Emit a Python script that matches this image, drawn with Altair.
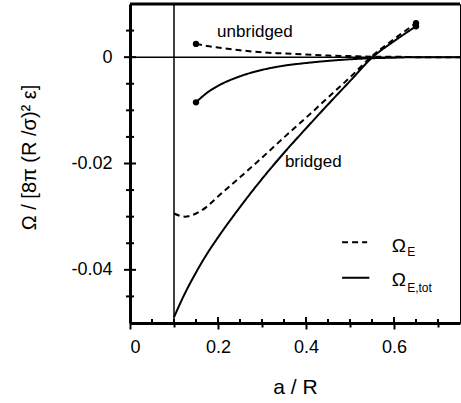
import altair as alt
import pandas as pd

# ---- data ----
a_bridged = [0.10, 0.125, 0.15, 0.175, 0.20, 0.25, 0.30, 0.35, 0.40, 0.45, 0.50, 0.55, 0.60, 0.65]
omegaE_bridged = [-0.0294, -0.0300, -0.0294, -0.0281, -0.0262, -0.0226, -0.0189, -0.0151,
                  -0.0114, -0.0076, -0.0038, 0.0002, 0.0034, 0.0064]
omegaEtot_bridged = [-0.0489, -0.0444, -0.0405, -0.0370, -0.0339, -0.0282, -0.0229, -0.0180,
                     -0.0134, -0.0089, -0.0045, -0.0001, 0.0030, 0.0058]

a_unbridged = [0.15, 0.175, 0.20, 0.25, 0.30, 0.35, 0.40, 0.45, 0.50, 0.55, 0.60, 0.65, 0.70, 0.75]
omegaE_unbridged = [0.0025, 0.0021, 0.0018, 0.0013, 0.0009, 0.0007, 0.0005, 0.0003,
                    0.0002, 0.0001, 0.0001, 0.0000, 0.0000, 0.0000]
omegaEtot_unbridged = [-0.0085, -0.0067, -0.0054, -0.0036, -0.0024, -0.0016, -0.0011, -0.0007,
                       -0.0004, -0.0002, -0.0001, 0.0000, 0.0000, 0.0000]

x_major = [0, 0.2, 0.4, 0.6]
x_minor = [0.05, 0.1, 0.15, 0.25, 0.3, 0.35, 0.45, 0.5, 0.55, 0.65, 0.7]
y_major = [-0.04, -0.02, 0.0]
y_minor = [-0.045, -0.035, -0.03, -0.025, -0.015, -0.01, -0.005, 0.005]

x_wall = [0.1]
y_zero = [0.0]

labels_text = ["unbridged", "bridged"]
labels_a = [0.198, 0.352]
labels_y = [0.0037, -0.0207]

legend_kind = ["E", "Etot"]
legend_y = [-0.0348, -0.0415]
legend_x1 = [0.482, 0.482]
legend_x2 = [0.539, 0.544]
legend_main = ["Ω", "Ω"]
legend_main_a = [0.595, 0.595]
legend_main_y = [-0.0366, -0.0430]
legend_sub = ["E", "E,tot"]
legend_sub_a = [0.630, 0.630]
legend_sub_y = [-0.0374, -0.0441]

W, H = 330, 319
FONT = "Liberation Sans"

# ---- build tables ----
rows = []
for a, v in zip(a_bridged, omegaE_bridged):
    rows.append({"a": a, "omega": v, "curve": "bridged_E", "kind": "E"})
for a, v in zip(a_bridged, omegaEtot_bridged):
    rows.append({"a": a, "omega": v, "curve": "bridged_Etot", "kind": "Etot"})
for a, v in zip(a_unbridged, omegaE_unbridged):
    rows.append({"a": a, "omega": v, "curve": "unbridged_E", "kind": "E"})
for a, v in zip(a_unbridged, omegaEtot_unbridged):
    rows.append({"a": a, "omega": v, "curve": "unbridged_Etot", "kind": "Etot"})
curves = pd.DataFrame(rows)

dots = pd.DataFrame({
    "a": [a_unbridged[0], a_unbridged[0], a_bridged[-1], a_bridged[-1]],
    "omega": [omegaE_unbridged[0], omegaEtot_unbridged[0], omegaE_bridged[-1], omegaEtot_bridged[-1]],
})

xs = alt.Scale(domain=[0, 0.75], nice=False, zero=False)
ys = alt.Scale(domain=[-0.05, 0.01], nice=False, zero=False)

major_list = "[" + ",".join(str(v) for v in x_major) + "]"
is_major = f"indexof({major_list}, datum.value) >= 0"

x_axis = alt.Axis(values=sorted(x_major + x_minor),
                  labelExpr=f"{is_major} ? format(datum.value, '.1~f') : ''",
                  ticks=True, tickColor="black", tickWidth=2,
                  tickSize={"condition": {"test": is_major, "value": 6}, "value": 4},
                  grid=False, domainWidth=3, domainColor="black",
                  labelFont=FONT, labelFontSize=18, labelColor="black", labelPadding=9,
                  title="a / R", titleFont=FONT, titleFontSize=21, titleFontWeight="normal",
                  titleColor="black", titleY=70, titleBaseline="alphabetic")
y_axis = alt.Axis(values=y_major,
                  labelExpr="datum.value == 0 ? '0' : replace(format(datum.value, '.2f'), '\u2212', '-')",
                  ticks=False, grid=False, domainWidth=3, domainColor="black",
                  labelFont=FONT, labelFontSize=18, labelColor="black", labelPadding=18,
                  title="Ω / [8π (R /σ)² ε]", titleFont=FONT, titleFontSize=20,
                  titleFontWeight="normal", titleColor="black", titleX=-95, titleY=153,
                  titleAngle=270, titleAlign="center", titleBaseline="alphabetic")

base_lines = alt.Chart(curves).mark_line(color="black", strokeWidth=2, interpolate="monotone").encode(
    x=alt.X("a:Q", scale=xs, axis=x_axis),
    y=alt.Y("omega:Q", scale=ys, axis=y_axis),
    detail="curve:N",
    strokeDash=alt.StrokeDash("kind:N", scale=alt.Scale(domain=["E", "Etot"], range=[[6, 4], [1, 0]]),
                              legend=None),
)

dot_layer = alt.Chart(dots).mark_circle(color="black", size=40, opacity=1).encode(
    x=alt.X("a:Q", scale=xs), y=alt.Y("omega:Q", scale=ys))

wall = alt.Chart(pd.DataFrame({"a": x_wall})).mark_rule(color="black", strokeWidth=1.5).encode(
    x=alt.X("a:Q", scale=xs))
zero = alt.Chart(pd.DataFrame({"v": y_zero})).mark_rule(color="black", strokeWidth=1.5).encode(
    y=alt.Y("v:Q", scale=ys))

top_border = alt.Chart(pd.DataFrame({"d": [0]})).mark_rule(color="black", strokeWidth=3).encode(
    x=alt.value(0), x2=alt.value(W), y=alt.value(0))

# inner halves of the x ticks
xt_df = pd.DataFrame({"xt": x_major + x_minor,
                      "len": [144] * len(x_major) + [64] * len(x_minor)})
xin = alt.Chart(xt_df).mark_point(shape="M0,-1L0,0", stroke="black", strokeWidth=2,
                                  filled=False, opacity=1).encode(
    x=alt.X("xt:Q", scale=xs), y=alt.value(H),
    size=alt.Size("len:Q", scale=None, legend=None))

ymaj = alt.Chart(pd.DataFrame({"yt": y_major})).mark_rule(color="black", strokeWidth=2).encode(
    y=alt.Y("yt:Q", scale=ys), x=alt.value(-6), x2=alt.value(6))
ymin = alt.Chart(pd.DataFrame({"yt": y_minor})).mark_rule(color="black", strokeWidth=2).encode(
    y=alt.Y("yt:Q", scale=ys), x=alt.value(-4), x2=alt.value(4))

curve_labels = alt.Chart(pd.DataFrame({"a": labels_a, "y": labels_y, "t": labels_text})).mark_text(
    font=FONT, fontSize=17, align="left", baseline="alphabetic", color="black").encode(
    x=alt.X("a:Q", scale=xs), y=alt.Y("y:Q", scale=ys), text="t:N")

leg_df = pd.DataFrame({"x1": legend_x1, "x2": legend_x2, "y": legend_y, "kind": legend_kind})
leg_lines = alt.Chart(leg_df).mark_rule(color="black", strokeWidth=2).encode(
    x=alt.X("x1:Q", scale=xs), x2="x2:Q", y=alt.Y("y:Q", scale=ys),
    strokeDash=alt.StrokeDash("kind:N", scale=alt.Scale(domain=["E", "Etot"], range=[[5, 4], [1, 0]]),
                              legend=None))
leg_main = alt.Chart(pd.DataFrame({"a": legend_main_a, "y": legend_main_y, "t": legend_main})).mark_text(
    font=FONT, fontSize=19, align="left", baseline="alphabetic", color="black").encode(
    x=alt.X("a:Q", scale=xs), y=alt.Y("y:Q", scale=ys), text="t:N")
leg_sub = alt.Chart(pd.DataFrame({"a": legend_sub_a, "y": legend_sub_y, "t": legend_sub})).mark_text(
    font=FONT, fontSize=12, align="left", baseline="alphabetic", color="black").encode(
    x=alt.X("a:Q", scale=xs), y=alt.Y("y:Q", scale=ys), text="t:N")

chart = alt.layer(
    base_lines, wall, zero, dot_layer, top_border, xin, ymaj, ymin,
    curve_labels, leg_lines, leg_main, leg_sub,
).properties(
    width=W, height=H,
    autosize=alt.AutoSizeParams(type="none"),
    padding={"left": 130, "top": 4, "right": 1, "bottom": 80},
    background="white",
).configure_view(stroke="black", strokeWidth=1)

chart.save("out.html", embed_options={"renderer": "svg", "actions": False})
